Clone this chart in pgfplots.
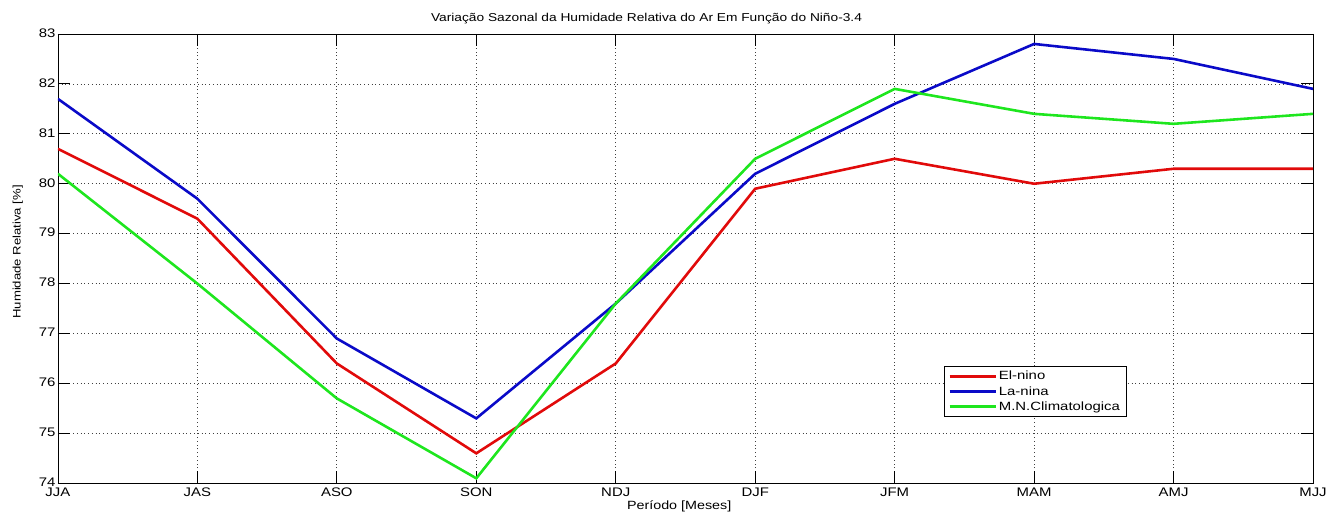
\documentclass[border=0pt]{standalone}
\usepackage{pgfplots}
\pgfplotsset{compat=1.18}
\usepackage{fontspec}
\setmainfont[FakeStretch=1.2]{Liberation Sans}
\newfontfamily\legfont[FakeStretch=1.25]{Liberation Sans}

\definecolor{elnino}{RGB}{225,10,10}
\definecolor{lanina}{RGB}{10,10,200}
\definecolor{mnclim}{RGB}{30,230,30}

\begin{document}
\begin{tikzpicture}
\begin{axis}[
    at={(0,0)}, anchor=south west,
    scale only axis,
    width=1257bp, height=450bp,
    xmin=0, xmax=9, ymin=74, ymax=83,
    xtick={0,1,2,3,4,5,6,7,8,9},
    xticklabels={JJA,JAS,ASO,SON,NDJ,DJF,JFM,MAM,AMJ,MJJ},
    ytick={74,75,76,77,78,79,80,81,82,83},
    /pgf/number format/assume math mode=true,
    tick label style={font=\fontsize{12.5}{14}\selectfont},
    yticklabel style={xshift=1bp, yshift=1bp},
    xticklabel style={yshift=-1.5bp},
    tick align=inside,
    major tick length=12bp,
    tick style={black, line width=0.8pt},
    axis line style={black, line width=0.8pt},
    grid=major,
    major grid style={black!75, line width=0.7pt, dash pattern=on 0.8pt off 3pt},
    title={Variação Sazonal da Humidade Relativa do Ar Em Função do Niño-3.4},
    title style={at={(axis description cs:0.469,1.022)}, anchor=center, font=\fontsize{11.5}{13}\selectfont},
    xlabel={Período [Meses]},
    xlabel style={at={(axis description cs:0.495,-0.052)}, anchor=center, overlay, font=\fontsize{12}{13}\selectfont},
    ylabel={Humidade Relativa [\%]},
    ylabel style={at={(axis description cs:-0.032,0.515)}, anchor=center, font=\fontsize{11}{12}\selectfont},
    legend style={at={(axis description cs:0.706,0.26)}, anchor=north west,
        font=\legfont\fontsize{12}{14}\selectfont, draw=black, line width=0.8pt,
        inner xsep=4pt, inner ysep=2.5pt, row sep=1pt},
    legend cell align=left,
    legend image code/.code={\draw[#1] (0bp,0bp) -- (46bp,0bp);},
]
\addplot[elnino, line width=2.6pt] coordinates {
(0,80.7) (1,79.3) (2,76.4) (3,74.6) (4,76.4) (5,79.9) (6,80.5) (7,80.0) (8,80.3) (9,80.3)
};
\addlegendentry{El-nino}
\addplot[lanina, line width=2.6pt] coordinates {
(0,81.7) (1,79.7) (2,76.9) (3,75.3) (4,77.6) (5,80.2) (6,81.6) (7,82.8) (8,82.5) (9,81.9)
};
\addlegendentry{La-nina}
\addplot[mnclim, line width=2.6pt] coordinates {
(0,80.2) (1,78.0) (2,75.7) (3,74.1) (4,77.6) (5,80.5) (6,81.9) (7,81.4) (8,81.2) (9,81.4)
};
\addlegendentry{M.N.Climatologica}
\end{axis}
\path (-58bp,-28bp) rectangle (1272bp,484bp);
\end{tikzpicture}
\end{document}
